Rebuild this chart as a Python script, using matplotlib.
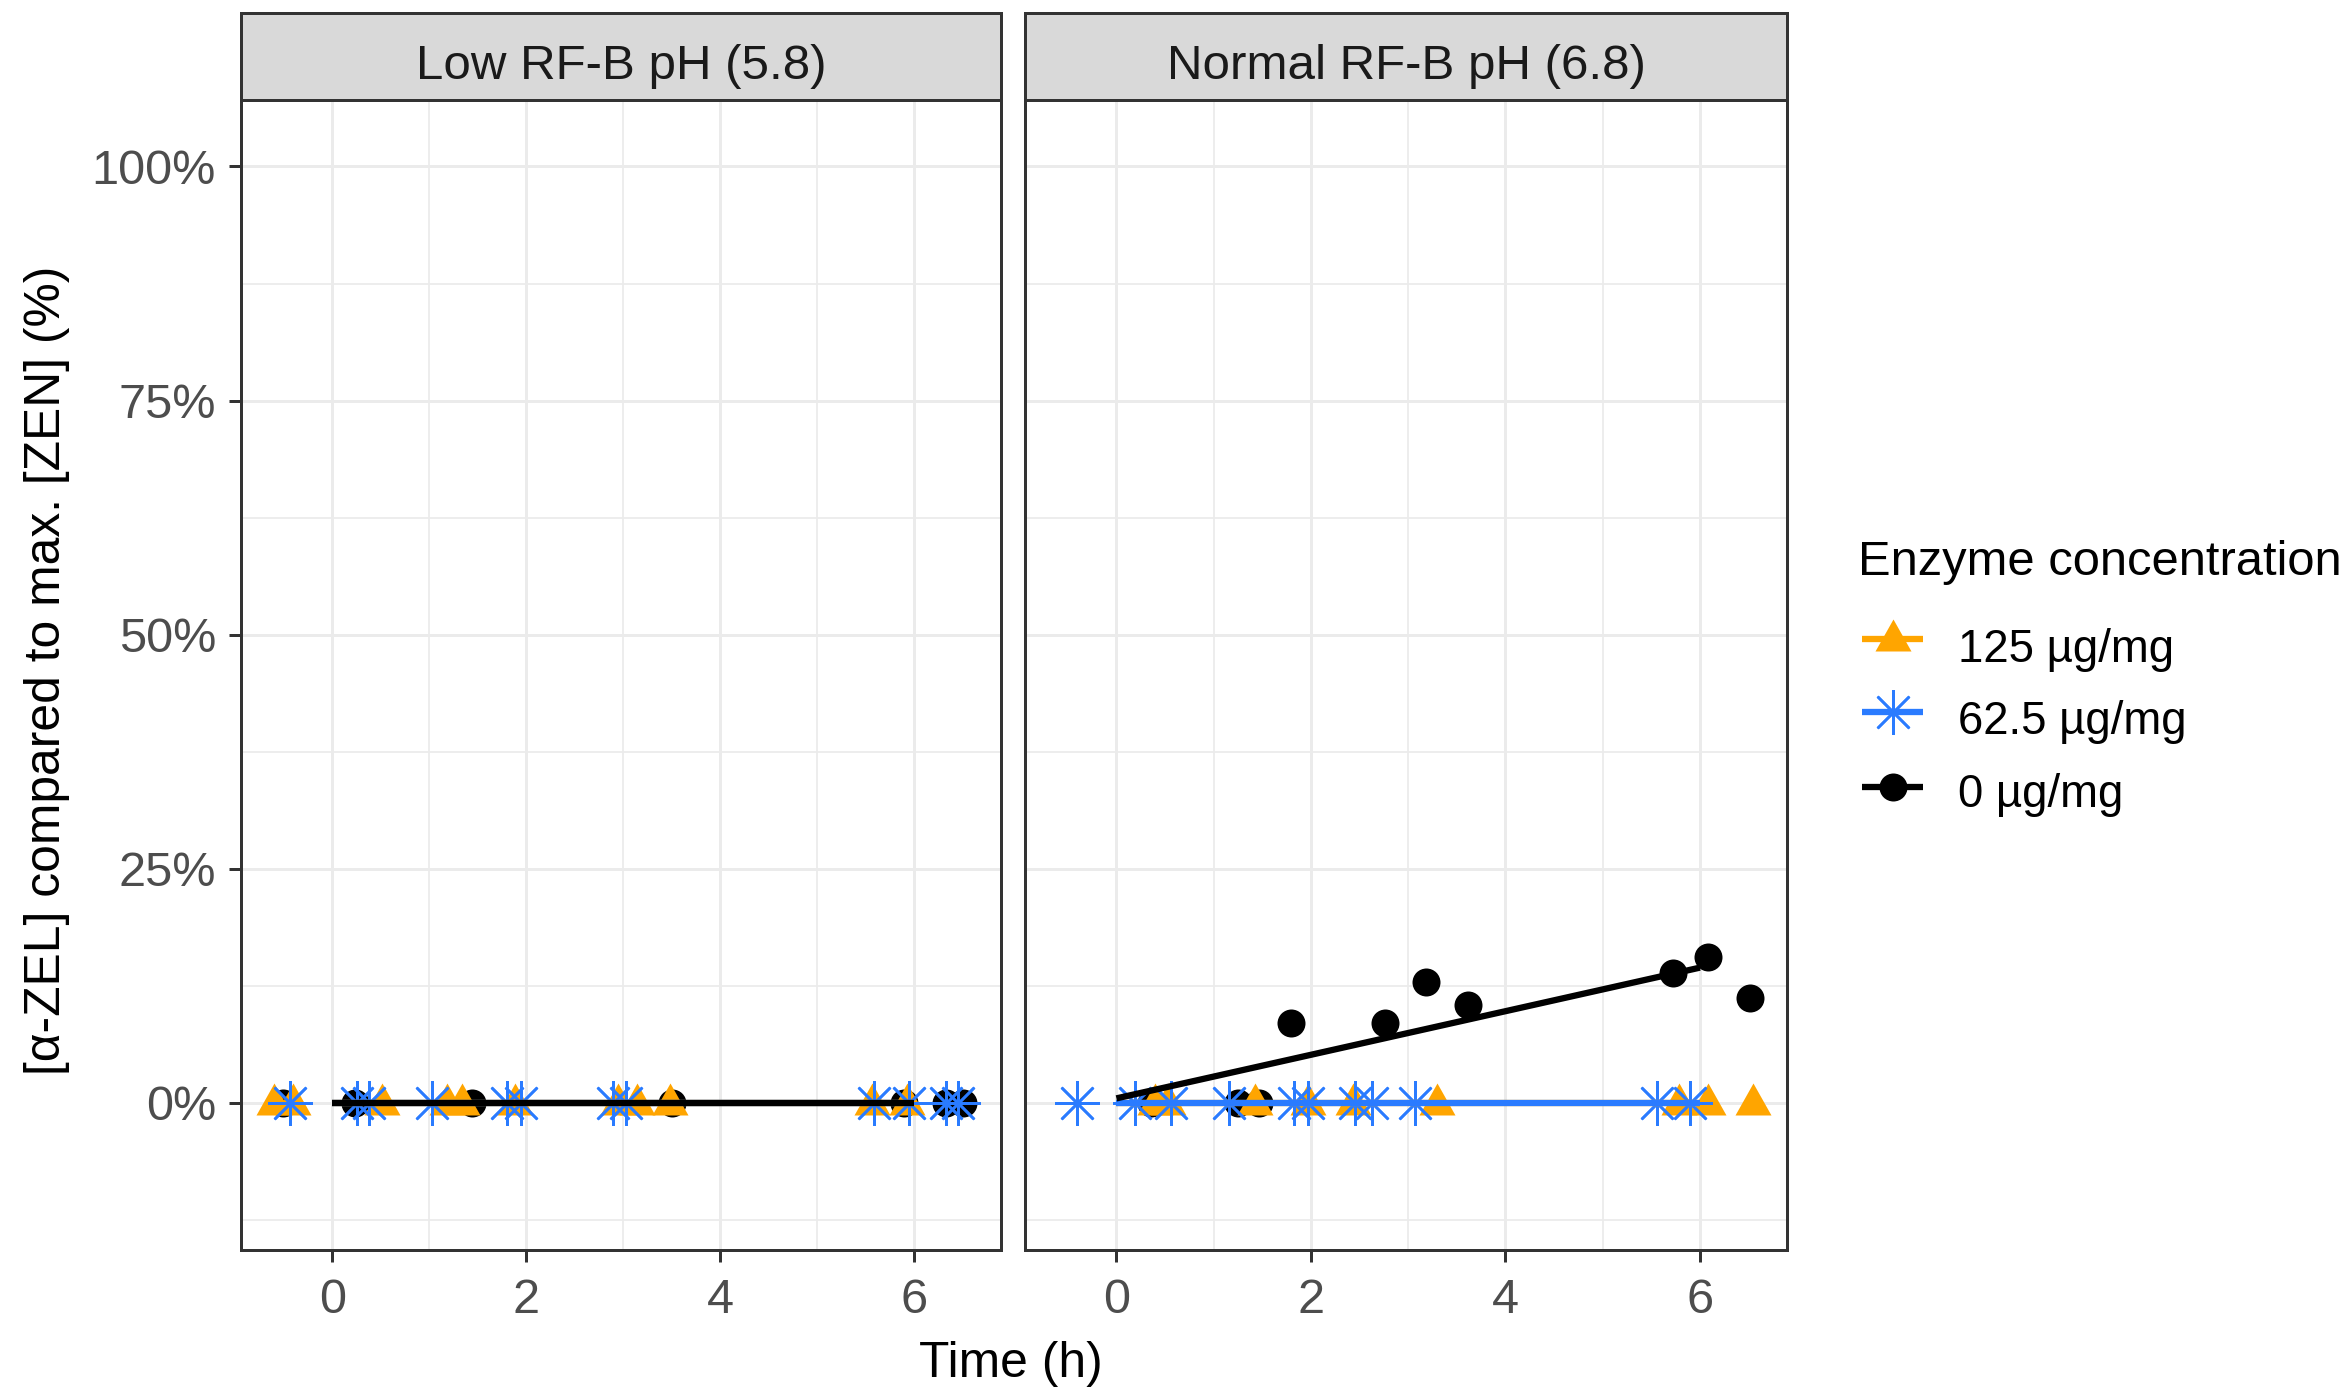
import numpy as np
import matplotlib
matplotlib.use("Agg")
import matplotlib.pyplot as plt
from matplotlib.path import Path

# ---------------- data ----------------
panel_titles = ["Low RF-B pH (5.8)", "Normal RF-B pH (6.8)"]
group_labels = ["125 µg/mg", "62.5 µg/mg", "0 µg/mg"]
group_colors = ["#FFA500", "#2A7BFF", "#000000"]
time_range = [0, 6]          # range of sampling times used for the fitted lines
x_ticks = [0, 2, 4, 6]
y_ticks = [0, 25, 50, 75, 100]
y_tick_labels = ["0%", "25%", "50%", "75%", "100%"]

# Low RF-B pH (5.8) -- jittered time (h) and alpha-ZEL (%)
low_125_t = [-0.60, -0.40, 0.51, 1.18, 1.34, 1.88, 2.95, 3.14, 3.48, 5.57, 5.93]
low_125_y = [0.0, 0.0, 0.0, 0.0, 0.0, 0.0, 0.0, 0.0, 0.0, 0.0, 0.0]
low_62_t = [-0.43, 0.26, 0.38, 1.03, 1.80, 1.95, 2.90, 3.03, 5.59, 5.95, 6.33, 6.45]
low_62_y = [0.0, 0.0, 0.0, 0.0, 0.0, 0.0, 0.0, 0.0, 0.0, 0.0, 0.0, 0.0]
low_0_t = [-0.51, 0.24, 1.44, 3.50, 5.90, 6.33, 6.50]
low_0_y = [0.0, 0.0, 0.0, 0.0, 0.0, 0.0, 0.0]

# Normal RF-B pH (6.8)
norm_125_t = [0.40, 0.53, 1.43, 1.97, 2.43, 3.30, 5.78, 6.08, 6.55]
norm_125_y = [0.0, 0.0, 0.0, 0.0, 0.0, 0.0, 0.0, 0.0, 0.0]
norm_62_t = [-0.41, 0.19, 0.56, 1.16, 1.83, 1.97, 2.45, 2.63, 3.07, 5.56, 5.90]
norm_62_y = [0.0, 0.0, 0.0, 0.0, 0.0, 0.0, 0.0, 0.0, 0.0, 0.0, 0.0]
norm_0_t = [0.36, 1.25, 1.47, 1.80, 2.76, 3.18, 3.61, 5.72, 6.08, 6.51]
norm_0_y = [0.0, 0.0, 0.0, 8.5, 8.5, 12.9, 10.5, 13.9, 15.6, 11.2]

panel_data = [
    [(low_125_t, low_125_y), (low_62_t, low_62_y), (low_0_t, low_0_y)],
    [(norm_125_t, norm_125_y), (norm_62_t, norm_62_y), (norm_0_t, norm_0_y)],
]

# ---------------- styling ----------------
FONT = "Liberation Sans"
FS_TICK = 35
FS_TITLE = 35.8
FS_STRIP = 35.5
FS_LEG_TITLE = 35.2
FS_LEG = 32.8
plt.rcParams["font.family"] = [FONT, "DejaVu Sans"]

W, H = 2350, 1397
DPI = 100
PX = 72.0 / DPI  # points per pixel

tri_path = Path([(0, 20), (-18, -12), (18, -12), (0, 20)],
                [Path.MOVETO, Path.LINETO, Path.LINETO, Path.CLOSEPOLY])
marker_styles = [
    dict(marker=tri_path, markersize=40 * PX, markeredgewidth=0),
    dict(marker=(8, 2, 0), markersize=45 * PX, markeredgewidth=2.6 * PX, fillstyle="none"),
    dict(marker="o", markersize=28 * PX, markeredgewidth=0),
]
draw_order_points = [2, 0, 1]
draw_order_lines = [0, 1, 2]
LINE_W = 6.3 * PX
GRID = "#EBEBEB"
DARK = "#333333"

fig = plt.figure(figsize=(W / DPI, H / DPI), dpi=DPI)
fig.patch.set_facecolor("white")

panel_px = [(241, 1001), (1025, 1787)]
top_px, bot_px, strip_top_px = 100, 1250, 13

for i, (x0, x1) in enumerate(panel_px):
    ax = fig.add_axes([x0 / W, 1 - bot_px / H, (x1 - x0) / W, (bot_px - top_px) / H])
    ax.set_xlim(-0.94, 6.895)
    ax.set_ylim(-15.7, 107.1)
    ax.set_xticks(x_ticks)
    ax.set_xticks([1, 3, 5], minor=True)
    ax.set_yticks(y_ticks)
    ax.set_yticks([-12.5, 12.5, 37.5, 62.5, 87.5], minor=True)
    ax.set_xticklabels([str(v) for v in x_ticks])
    ax.set_yticklabels(y_tick_labels)
    ax.grid(which="major", color=GRID, lw=3 * PX)
    ax.grid(which="minor", color=GRID, lw=1.8 * PX)
    ax.set_axisbelow(True)
    ax.tick_params(which="minor", length=0)
    ax.tick_params(which="major", length=12 * PX, width=3 * PX, color=DARK,
                   labelsize=FS_TICK, labelcolor="#4D4D4D")
    ax.tick_params(axis="y", pad=13 * PX)
    ax.tick_params(axis="x", pad=16 * PX)
    for sp in ax.spines.values():
        sp.set_color(DARK)
        sp.set_linewidth(3.0 * PX)
    if i == 1:
        ax.tick_params(axis="y", which="both", left=False, labelleft=False)

    groups = panel_data[i]
    for g in draw_order_points:
        t, y = groups[g]
        ax.plot(t, y, linestyle="none", color=group_colors[g],
                markerfacecolor=group_colors[g], markeredgecolor=group_colors[g],
                zorder=3, clip_on=False, **marker_styles[g])
    for g in draw_order_lines:
        t, y = groups[g]
        slope, intercept = np.polyfit(np.asarray(t), np.asarray(y), 1)
        xl = np.array(time_range, dtype=float)
        ax.plot(xl, intercept + slope * xl, color=group_colors[g], lw=LINE_W,
                solid_capstyle="butt", zorder=4)

    # strip
    sax = fig.add_axes([x0 / W, 1 - top_px / H, (x1 - x0) / W, (top_px - strip_top_px) / H])
    sax.set_facecolor("#D9D9D9")
    sax.set_xticks([])
    sax.set_yticks([])
    sax.set_xlim(0, 1)
    sax.set_ylim(top_px, strip_top_px)
    for sp in sax.spines.values():
        sp.set_color(DARK)
        sp.set_linewidth(3.0 * PX)
    sax.text(0.5, 79.3, panel_titles[i], ha="center", va="baseline",
             fontsize=FS_STRIP, color="#1A1A1A")

# axis titles
fig.text(1011 / W, 1 - 1377 / H, "Time (h)", ha="center", va="baseline",
         fontsize=FS_TITLE, color="black")
fig.text(47 / W, 1 - 670 / H, "[α-ZEL] compared to max. [ZEN] (%)", ha="center",
         va="center", rotation=90, fontsize=FS_TITLE, color="black")

# legend (drawn in pixel coordinates)
lax = fig.add_axes([0, 0, 1, 1], facecolor="none")
lax.set_xlim(0, W)
lax.set_ylim(H, 0)
lax.axis("off")
lax.text(1858, 575, "Enzyme concentration", ha="left", va="baseline",
         fontsize=FS_LEG_TITLE, color="black")
key_y = [639, 712, 787]
lab_base = [662, 734, 807]
for g in range(3):
    lax.plot([1862, 1923], [key_y[g], key_y[g]], color=group_colors[g], lw=LINE_W,
             solid_capstyle="butt")
    lax.plot([1892.5], [key_y[g]], linestyle="none", color=group_colors[g],
             markerfacecolor=group_colors[g], markeredgecolor=group_colors[g],
             **marker_styles[g])
    lax.text(1958, lab_base[g], group_labels[g], ha="left", va="baseline",
             fontsize=FS_LEG, color="black")

fig.savefig("out.png", dpi=DPI, facecolor="white")
